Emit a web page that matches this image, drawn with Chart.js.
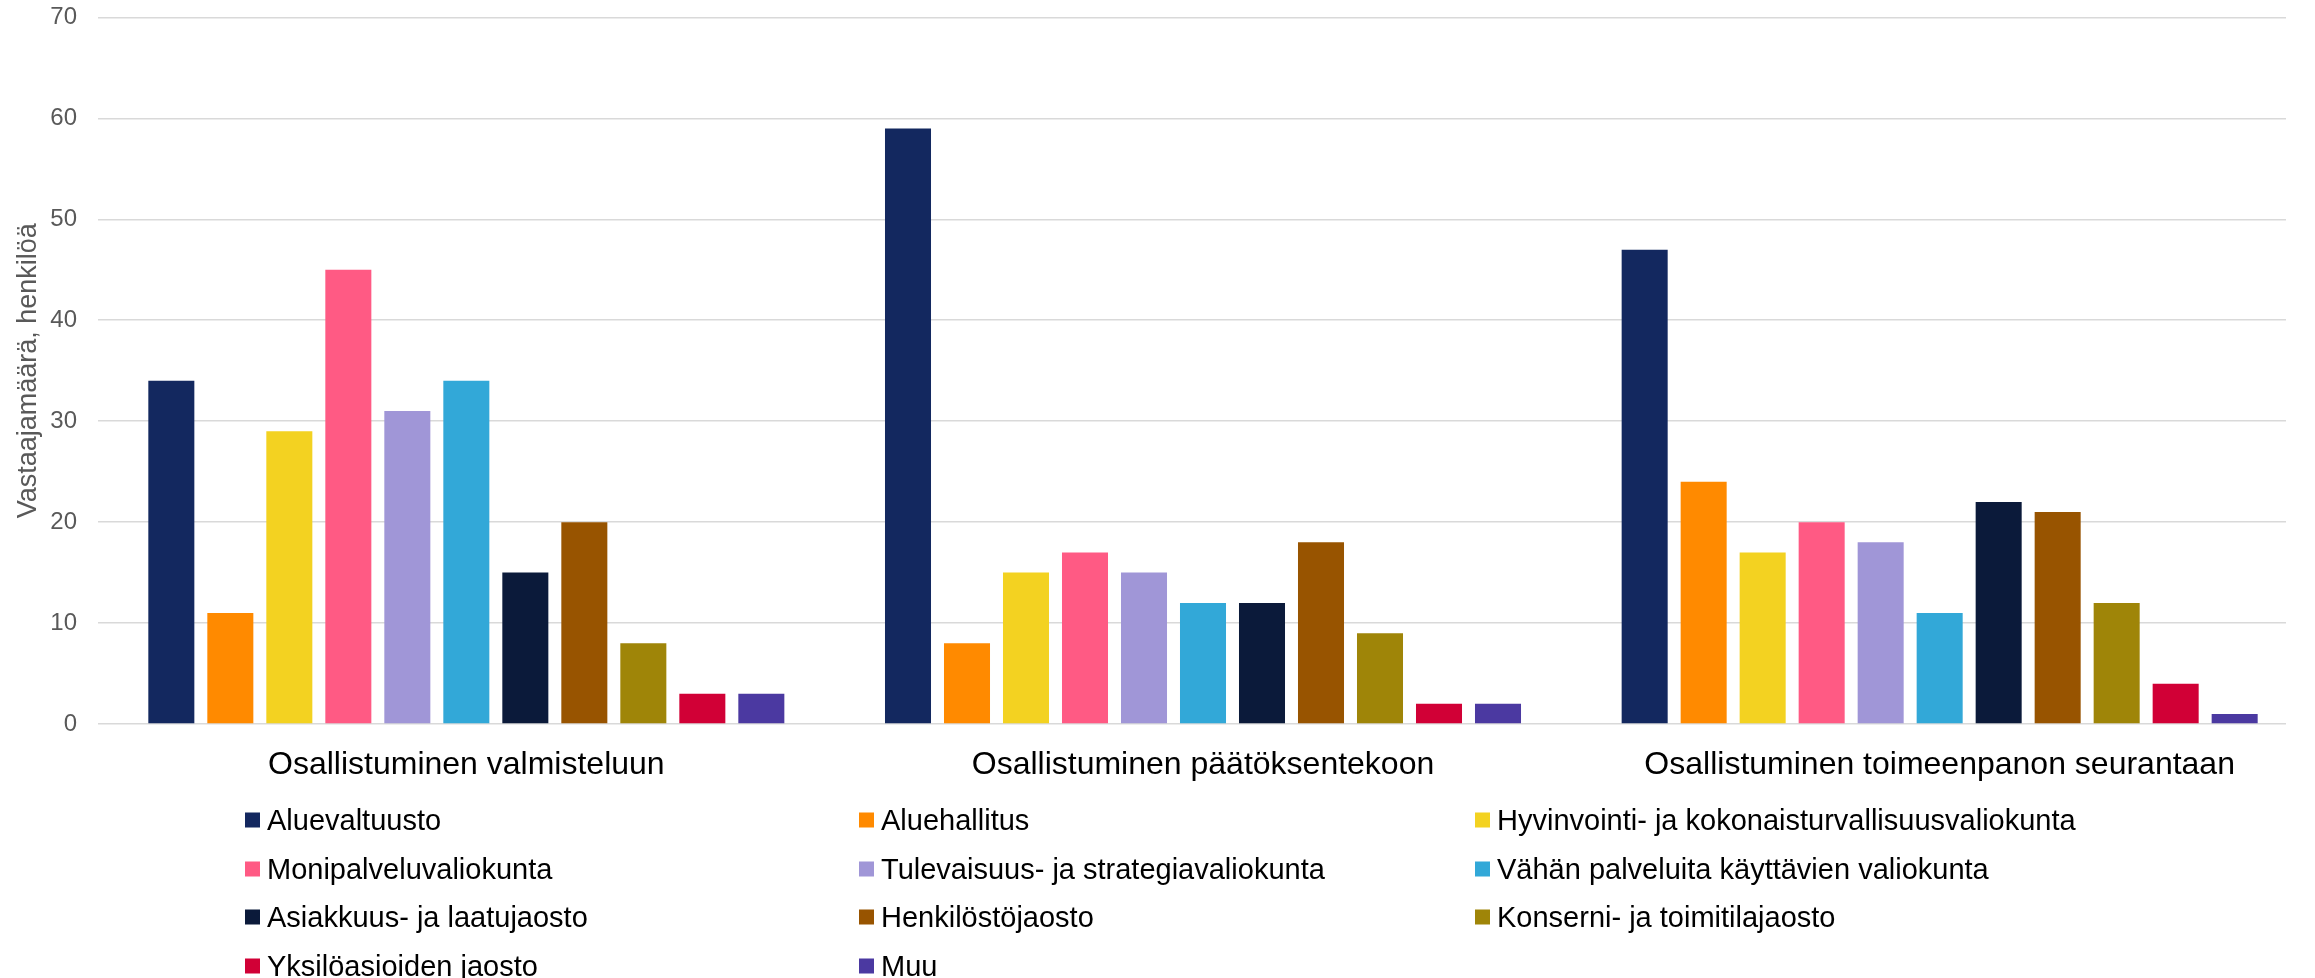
<!DOCTYPE html>
<html>
<head>
<meta charset="utf-8">
<script src="https://cdn.jsdelivr.net/npm/chart.js@4.4.1/dist/chart.umd.min.js"></script>
<style>
  html, body { margin: 0; padding: 0; background: #fff; overflow: hidden; }
  #wrap { position: relative; width: 2315px; height: 978px; }
  #c { position: absolute; left: 0; top: 0; }
  #legend { position: absolute; left: 0; top: 0; width: 2315px; height: 978px; pointer-events: none;
            font-family: 'Liberation Sans', Arial, sans-serif; font-size: 29px; color: #000; }
  .li { position: absolute; display: flex; align-items: center; white-space: nowrap; transform: translateY(-50%); }
  .sw { width: 15px; height: 15px; margin-right: 7px; flex: none; }
</style>
</head>
<body>
<div id="wrap">
  <canvas id="c" width="2315" height="978"></canvas>
  <div id="legend"></div>
</div>
<script>
const categories = [
  'Osallistuminen valmisteluun',
  'Osallistuminen päätöksentekoon',
  'Osallistuminen toimeenpanon seurantaan'
];
const seriesNames = [
  'Aluevaltuusto',
  'Aluehallitus',
  'Hyvinvointi- ja kokonaisturvallisuusvaliokunta',
  'Monipalveluvaliokunta',
  'Tulevaisuus- ja strategiavaliokunta',
  'Vähän palveluita käyttävien valiokunta',
  'Asiakkuus- ja laatujaosto',
  'Henkilöstöjaosto',
  'Konserni- ja toimitilajaosto',
  'Yksilöasioiden jaosto',
  'Muu'
];
const seriesColors = [
  '#13285F', '#FF8A00', '#F3D221', '#FF5A84', '#A096D7', '#32A8D8',
  '#0B1A3A', '#985400', '#9F8508', '#D10036', '#4B39A1'
];
// values per series: [valmisteluun, päätöksentekoon, seurantaan]
const aluevaltuusto   = [34, 59, 47];
const aluehallitus    = [11, 8, 24];
const hyvinvointi     = [29, 15, 17];
const monipalvelu     = [45, 17, 20];
const tulevaisuus     = [31, 15, 18];
const vahanPalveluita = [34, 12, 11];
const asiakkuus       = [15, 12, 22];
const henkilosto      = [20, 18, 21];
const konserni        = [8, 9, 12];
const yksiloasiat     = [3, 2, 4];
const muu             = [3, 2, 1];
const seriesValues = [aluevaltuusto, aluehallitus, hyvinvointi, monipalvelu, tulevaisuus,
  vahanPalveluita, asiakkuus, henkilosto, konserni, yksiloasiat, muu];
const yTicks = [0, 10, 20, 30, 40, 50, 60, 70];
const yTitle = 'Vastaajamäärä, henkilöä';

const FONT = "'Liberation Sans', Arial, sans-serif";
const GRID_END_X = 2286;

// trims the horizontal gridlines so they stop a little short of the plot's right edge
const gridTrim = {
  id: 'gridTrim',
  beforeDatasetsDraw(chart) {
    const { ctx, chartArea } = chart;
    ctx.save();
    ctx.fillStyle = '#ffffff';
    ctx.fillRect(GRID_END_X, chartArea.top - 3, chartArea.right - GRID_END_X + 3, chartArea.bottom - chartArea.top + 6);
    ctx.restore();
  }
};

const chart = new Chart(document.getElementById('c'), {
  type: 'bar',
  data: {
    labels: categories,
    datasets: seriesNames.map((n, i) => ({
      label: n,
      data: seriesValues[i],
      backgroundColor: seriesColors[i],
      borderWidth: 0,
      categoryPercentage: 0.881,
      barPercentage: 0.78
    }))
  },
  options: {
    responsive: false,
    animation: false,
    devicePixelRatio: 1,
    layout: { padding: { top: 17.5, right: 7, bottom: 194, left: 0 } },
    plugins: {
      legend: { display: false },
      tooltip: { enabled: false }
    },
    scales: {
      x: {
        grid: { display: false, drawTicks: false },
        border: { display: false },
        ticks: { color: '#000', font: { family: FONT, size: 32 }, padding: 22, maxRotation: 0 },
        afterFit: (s) => { s.height = 60; s.paddingLeft = 0; s.paddingRight = 0; }
      },
      y: {
        min: yTicks[0],
        max: yTicks[yTicks.length - 1],
        grid: { color: '#D9D9D9', lineWidth: 1.6, drawTicks: false },
        border: { display: false },
        ticks: { stepSize: 10, color: '#595959', font: { family: FONT, size: 24 }, padding: 21 },
        title: { display: true, text: yTitle, color: '#595959', font: { family: FONT, size: 27 }, padding: { top: 12, bottom: 0 } },
        afterFit: (s) => { s.width = 98; s.paddingTop = 0; s.paddingBottom = 0; }
      }
    }
  },
  plugins: [gridTrim]
});

// HTML legend in a 3-column grid, built from the chart's datasets
const legendEl = document.getElementById('legend');
const colX = [245, 859, 1475];
const rowY0 = 820, rowStep = 48.5;
chart.data.datasets.forEach((ds, i) => {
  const item = document.createElement('div');
  item.className = 'li';
  item.style.left = colX[i % 3] + 'px';
  item.style.top = (rowY0 + rowStep * Math.floor(i / 3)) + 'px';
  const sw = document.createElement('span');
  sw.className = 'sw';
  sw.style.background = ds.backgroundColor;
  const tx = document.createElement('span');
  tx.textContent = ds.label;
  item.appendChild(sw);
  item.appendChild(tx);
  legendEl.appendChild(item);
});
</script>
</body>
</html>
